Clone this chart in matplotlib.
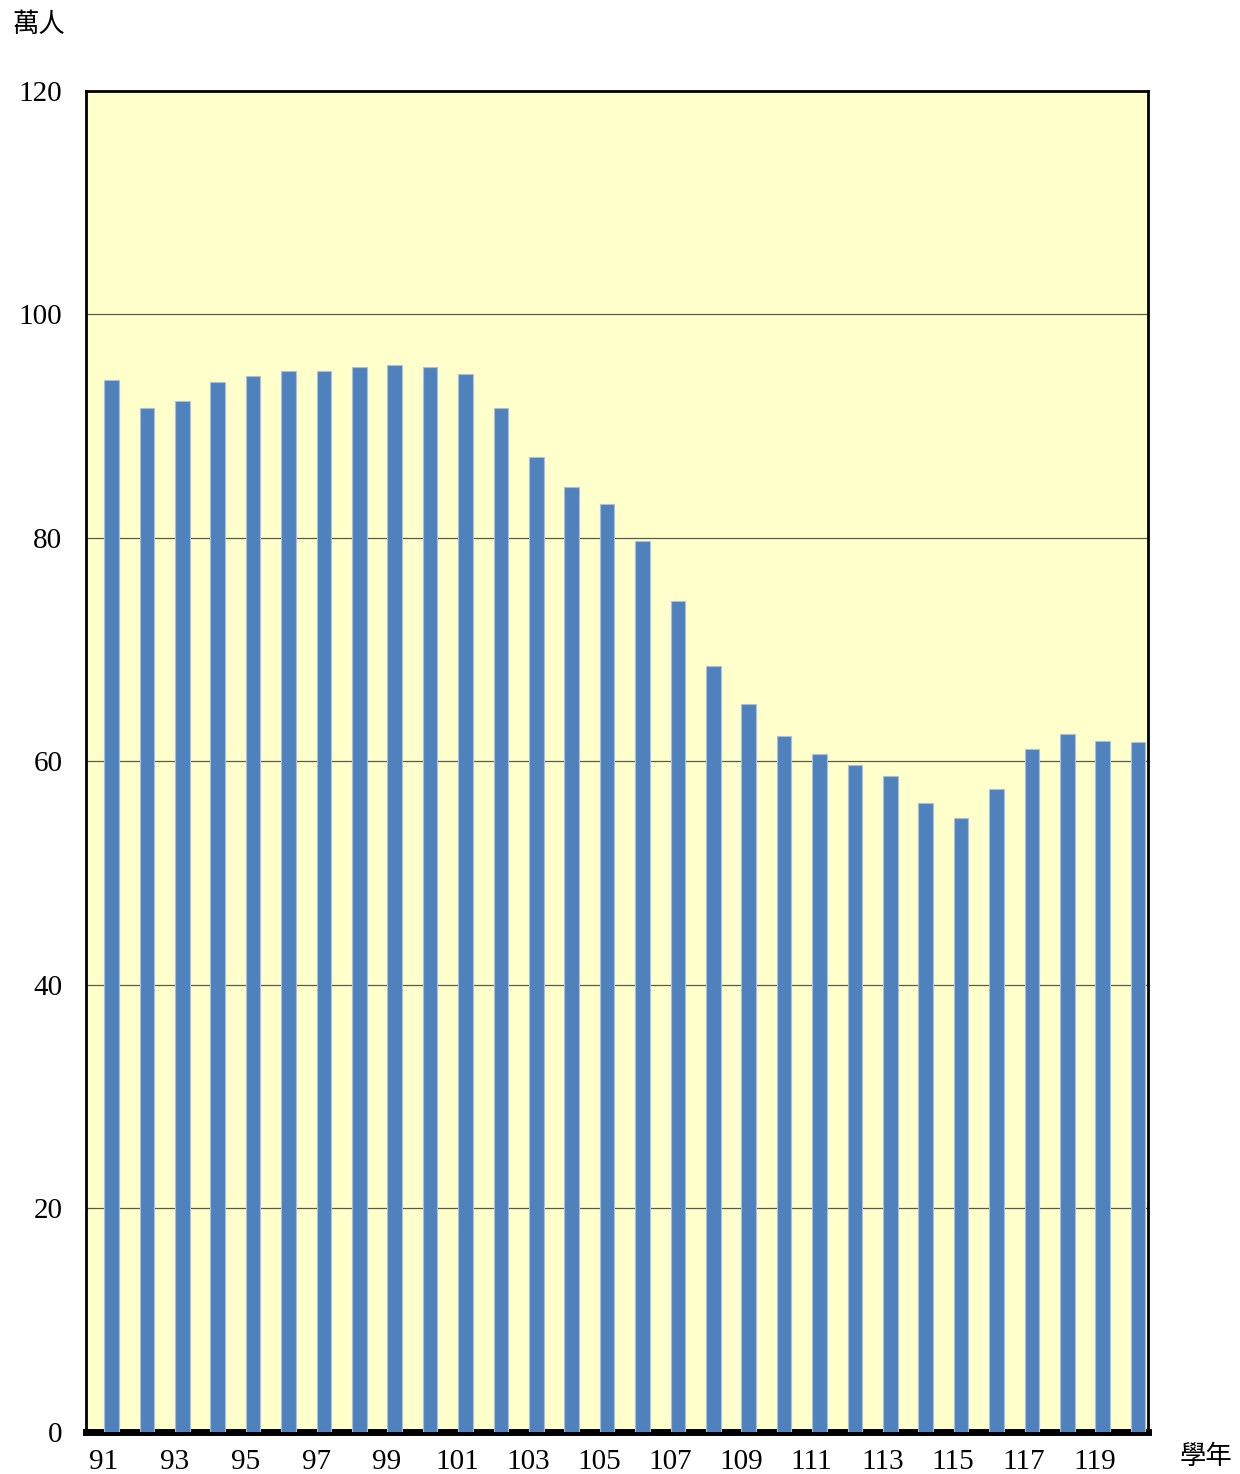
import matplotlib.pyplot as plt
import numpy as np

years = list(range(91, 121))
values = [94.1, 91.6, 92.3, 94.0, 94.5, 94.9, 94.9, 95.3, 95.5, 95.3,
          94.7, 91.6, 87.2, 84.6, 83.0, 79.7, 74.4, 68.5, 65.1, 62.3,
          60.7, 59.7, 58.7, 56.3, 54.9, 57.5, 61.1, 62.5, 61.8, 61.7]
yticks = [0, 20, 40, 60, 80, 100, 120]

serif = ['Liberation Serif', 'DejaVu Serif']
cjk = ['Noto Sans CJK TC', 'DejaVu Sans']

fig = plt.figure(figsize=(12.4, 14.74), dpi=100)
ax = fig.add_axes([0.0694, 0.0285, 0.8564, 0.9098])
ax.set_facecolor('#FFFFCC')

x = np.arange(len(years))
ax.bar(x + 0.22, values, width=0.41, color='#4F81BD', edgecolor='#A8C0DC',
       linewidth=0.8, zorder=3)

ax.set_xlim(-0.5, len(years) - 0.5)
ax.set_ylim(0, 120)
ax.set_yticks(yticks)
ax.set_yticklabels([str(v) for v in yticks], family=serif, fontsize=21)
ax.set_xticks(x[::2])
ax.set_xticklabels([str(y) for y in years[::2]], family=serif, fontsize=21)
ax.tick_params(length=0, pad=12)
ax.tick_params(axis='y', pad=17)

for v in yticks[1:-1]:
    ax.axhline(v, color='#5a5a4a', linewidth=0.9, zorder=1)

for s in ['left', 'top', 'right']:
    ax.spines[s].set_linewidth(2)
ax.spines['bottom'].set_linewidth(5)

fig.text(12 / 1240, 1 - 25 / 1474, '萬人', family=cjk, fontsize=19,
         fontweight='light', ha='left', va='center')
fig.text(1180 / 1240, 1 - 1457 / 1474, '學年', family=cjk, fontsize=19,
         fontweight='light', ha='left', va='center')

fig.savefig('out.png', dpi=100)
